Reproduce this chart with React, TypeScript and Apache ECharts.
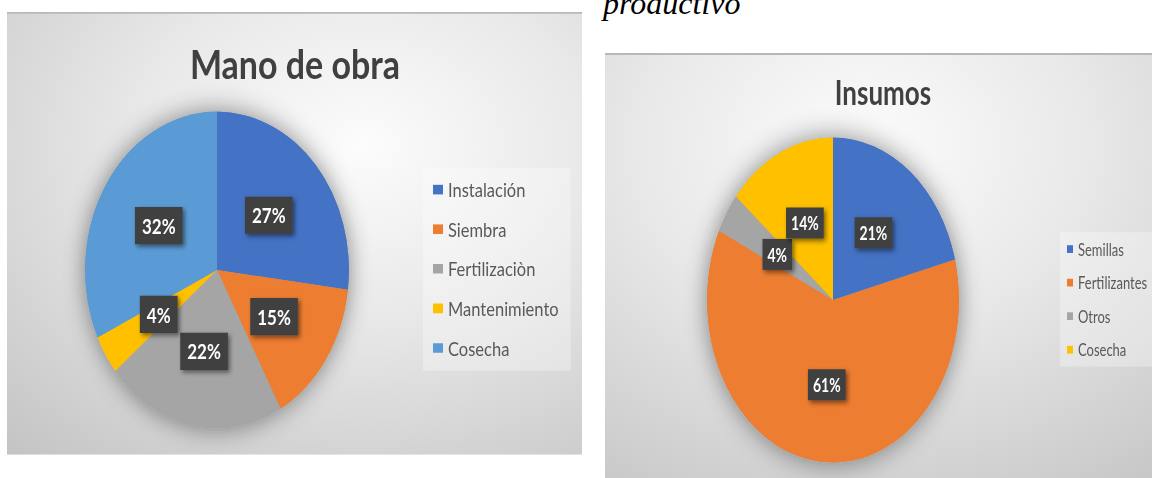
import React, { useEffect, useRef } from "react";
import * as echarts from "echarts";

const manoCategories = ["Instalación", "Siembra", "Fertilizaciòn", "Mantenimiento", "Cosecha"];
const manoValues = [27, 15, 22, 4, 32];
const manoColors = ["#4472C4", "#ED7D31", "#A5A5A5", "#FFC000", "#5B9BD5"];

const insumosCategories = ["Semillas", "Fertilizantes", "Otros", "Cosecha"];
const insumosValues = [21, 61, 4, 14];
const insumosColors = ["#4472C4", "#ED7D31", "#A5A5A5", "#FFC000"];

const FONT = "Lato";

function Chart({ option, style }: { option: any; style: React.CSSProperties }) {
  const ref = useRef<HTMLDivElement>(null);
  useEffect(() => {
    if (!ref.current) return;
    const chart = echarts.init(ref.current, null, { renderer: "svg" });
    chart.setOption(option);
    return () => chart.dispose();
  }, []);
  return <div ref={ref} style={style} />;
}

function panelGraphic(w: number, h: number, cx: number, cy: number) {
  return [
    {
      type: "rect",
      z: -10,
      shape: { x: 0, y: 0, width: w, height: h },
      style: {
        fill: new echarts.graphic.RadialGradient(cx, cy, 1.0, [
          { offset: 0, color: "#fcfcfc" },
          { offset: 0.4, color: "#e8e8e8" },
          { offset: 1, color: "#bfbfbf" },
        ]),
      },
      silent: true,
    },
    {
      type: "rect",
      z: -9,
      shape: { x: 0, y: 0, width: w, height: 1.5 },
      style: { fill: "#b8b8b8" },
      silent: true,
    },
  ];
}

function pieSeries(
  cats: string[],
  vals: number[],
  colors: string[],
  center: [number, number],
  radius: number,
  fontSize: number,
  padding: number[]
) {
  return [
    {
      type: "pie",
      silent: true,
      z: 1,
      center,
      radius,
      label: { show: false },
      labelLine: { show: false },
      data: [
        {
          value: 1,
          name: "",
          itemStyle: { color: "#a0a0a0", shadowBlur: 22, shadowColor: "rgba(0,0,0,0.45)" },
        },
      ],
    },
    {
      type: "pie",
      z: 3,
      center,
      radius,
      startAngle: 90,
      clockwise: true,
      percentPrecision: 0,
      avoidLabelOverlap: false,
      label: {
        show: true,
        position: "inside",
        formatter: "{d}%",
        color: "#ffffff",
        fontSize,
        fontWeight: "bold",
        fontFamily: FONT,
        backgroundColor: "#404040",
        padding,
        shadowBlur: 4,
        shadowColor: "rgba(0,0,0,0.5)",
        shadowOffsetX: 2,
        shadowOffsetY: 2,
      },
      labelLine: { show: false },
      emphasis: { disabled: true },
      data: cats.map((c, i) => ({ name: c, value: vals[i], itemStyle: { color: colors[i] } })),
    },
  ];
}

const LW = 575;
const LH = 369;
const leftOption = {
  animation: false,
  graphic: [
    ...panelGraphic(LW, LH, 0.62, 0.3),
    {
      type: "text",
      x: 288,
      y: 43,
      style: {
        text: "Mano de obra",
        fontSize: 34,
        fontWeight: "bold",
        fontFamily: FONT,
        fill: "#404040",
        align: "center",
        verticalAlign: "middle",
      },
    },
  ],
  legend: {
    orient: "vertical",
    left: 416,
    top: 130,
    padding: [8, 12, 9, 10],
    backgroundColor: "rgba(255,255,255,0.3)",
    itemWidth: 10,
    itemHeight: 8,
    itemGap: 13,
    icon: "rect",
    selectedMode: false,
    data: manoCategories,
    textStyle: { fontSize: 16.5, lineHeight: 20, color: "#595959", fontFamily: FONT },
  },
  series: pieSeries(manoCategories, manoValues, manoColors, [210, 215], 132, 17, [7, 7]),
};

const RW = 575;
const RH = 357;
const rightOption = {
  animation: false,
  graphic: [
    ...panelGraphic(RW, RH, 0.45, 0.2),
    {
      type: "text",
      x: 278,
      y: 30,
      style: {
        text: "Insumos",
        fontSize: 26,
        fontWeight: "bold",
        fontFamily: FONT,
        fill: "#404040",
        align: "center",
        verticalAlign: "middle",
      },
    },
  ],
  legend: {
    orient: "vertical",
    left: 455,
    top: 139,
    padding: [5, 14, 5, 7],
    backgroundColor: "rgba(255,255,255,0.3)",
    itemWidth: 6,
    itemHeight: 6,
    itemGap: 10,
    icon: "rect",
    selectedMode: false,
    data: insumosCategories,
    textStyle: { fontSize: 13, lineHeight: 16, color: "#595959", fontFamily: FONT },
  },
  series: pieSeries(insumosCategories, insumosValues, insumosColors, [228, 191.5], 126, 14, [5, 5]),
};

const textOption = {
  animation: false,
  graphic: [
    {
      type: "text",
      x: 13,
      y: 3,
      style: {
        text: "productivo",
        fontSize: 32,
        fontStyle: "italic",
        fontFamily: "Liberation Serif",
        fill: "#000000",
        align: "left",
        verticalAlign: "middle",
      },
    },
  ],
};

export default function App() {
  return (
    <div
      style={{
        position: "absolute",
        left: 0,
        top: 0,
        width: 1152,
        height: 478,
        overflow: "hidden",
        background: "#ffffff",
      }}
    >
      <Chart
        option={textOption}
        style={{ position: "absolute", left: 590, top: 0, width: 220, height: 40 }}
      />
      <Chart
        option={leftOption}
        style={{
          position: "absolute",
          left: 7,
          top: 12,
          width: LW,
          height: LH,
          transform: "scaleY(1.2)",
          transformOrigin: "0 0",
        }}
      />
      <Chart
        option={rightOption}
        style={{
          position: "absolute",
          left: 605,
          top: 53,
          width: RW,
          height: RH,
          transform: "scaleY(1.29)",
          transformOrigin: "0 0",
        }}
      />
    </div>
  );
}
